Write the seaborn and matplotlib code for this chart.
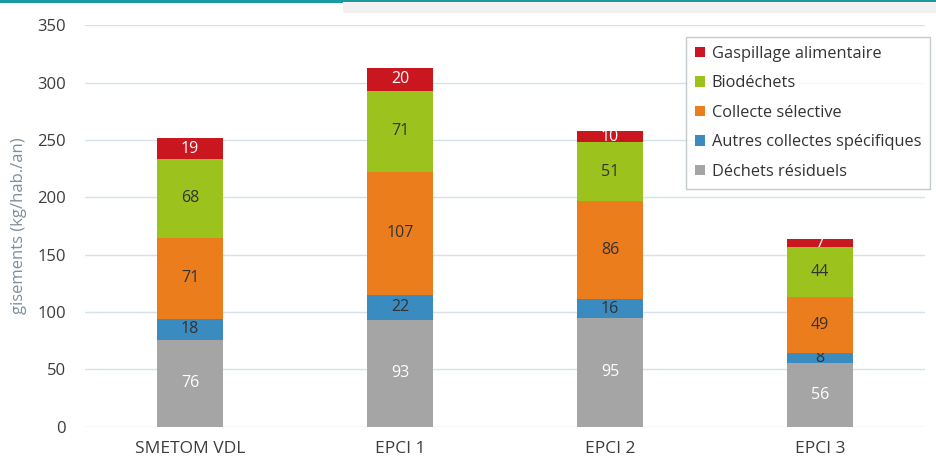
import numpy as np
import pandas as pd
import seaborn as sns
import matplotlib.pyplot as plt
from matplotlib.patches import Rectangle

# data (kg/hab./an)
territoires = ['SMETOM VDL', 'EPCI 1', 'EPCI 2', 'EPCI 3']
dechets_residuels = [76, 93, 95, 56]
autres_collectes = [18, 22, 16, 8]
collecte_selective = [71, 107, 86, 49]
biodechets = [68, 71, 51, 44]
gaspillage = [19, 20, 10, 7]

series = [
    ('Déchets résiduels', dechets_residuels, '#a5a5a5', 'white'),
    ('Autres collectes spécifiques', autres_collectes, '#3a8bbf', '#333333'),
    ('Collecte sélective', collecte_selective, '#ec7d1c', '#333333'),
    ('Biodéchets', biodechets, '#9cc31d', '#333333'),
    ('Gaspillage alimentaire', gaspillage, '#c9161f', 'white'),
]

sns.set_style('white')
plt.rcParams['font.family'] = ['Open Sans', 'DejaVu Sans']

fig = plt.figure(figsize=(9.36, 4.67), dpi=100)
ax = fig.add_axes([0.091, 0.086, 0.897, 0.86])

bottom = np.zeros(len(territoires))
for name, vals, col, txtcol in series:
    sns.barplot(x=territoires, y=vals, bottom=bottom, color=col, width=0.315,
                saturation=1, linewidth=0, label=name, ax=ax, zorder=3)
    cont = ax.containers[-1]
    ax.bar_label(cont, labels=[str(v) for v in vals], label_type='center',
                 color=txtcol, fontsize=11.5)
    bottom += np.array(vals)

ax.set_ylim(0, 350)
ax.set_yticks(range(0, 351, 50))
ax.grid(axis='y', color='#d6e2e9', linewidth=1, zorder=0)
sns.despine(ax=ax, left=True, bottom=True)
ax.tick_params(axis='both', length=0, labelcolor='#3c3c3c')
ax.tick_params(axis='x', pad=10, labelsize=12.5)
ax.tick_params(axis='y', pad=14, labelsize=12)
ax.set_xlabel('')
ax.set_ylabel('gisements (kg/hab./an)', color='#7d8f9b', fontsize=12)
ax.yaxis.set_label_coords(-0.069, 0.5)

handles, labels = ax.get_legend_handles_labels()
leg = ax.legend(handles[::-1], labels[::-1], loc='upper right',
                bbox_to_anchor=(0.994, 0.921), bbox_transform=fig.transFigure,
                borderaxespad=0, frameon=True, fancybox=False, fontsize=11.8,
                handlelength=0.6, handleheight=0.6, handletextpad=0.4,
                labelspacing=0.82, borderpad=0.55, labelcolor='#333333')
leg.get_frame().set_edgecolor('#b5bec4')
leg.get_frame().set_linewidth(1)

# screenshot header strip
fig.add_artist(Rectangle((0.366, 0.972), 0.634, 0.028, transform=fig.transFigure,
                         facecolor='#f1f1f1', edgecolor='none'))
fig.add_artist(Rectangle((0, 0.994), 0.366, 0.006, transform=fig.transFigure,
                         facecolor='#1a9aa0', edgecolor='none'))
fig.add_artist(Rectangle((0.366, 0.996), 0.634, 0.004, transform=fig.transFigure,
                         facecolor='#1a9aa0', edgecolor='none'))

fig.savefig('out.png', dpi=100)
